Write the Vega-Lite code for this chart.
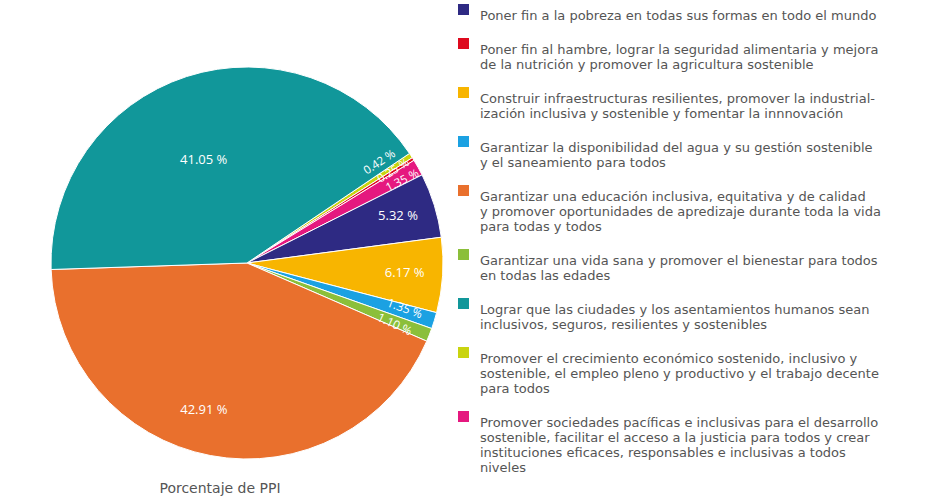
{
  "$schema": "https://vega.github.io/schema/vega-lite/v6.json",
  "width": 494,
  "height": 430,
  "autosize": {"type": "none"},
  "padding": {"left": 0, "top": 48, "right": 451, "bottom": 24},
  "background": "white",
  "config": {"view": {"stroke": null}, "font": "Open Sans"},
  "title": {"text": "Porcentaje de PPI", "orient": "bottom", "fontSize": 14, "fontWeight": "normal", "color": "#555555", "dx": -27, "offset": 4, "font": "DejaVu Sans"},
  "data": {"values": [
    {"cat": "Promover el crecimiento económico sostenido, inclusivo y\nsostenible, el empleo pleno y productivo y el trabajo decente\npara todos", "pct": 0.42},
    {"cat": "Poner fin al hambre, lograr la seguridad alimentaria y mejora\nde la nutrición y promover la agricultura sostenible", "pct": 0.25},
    {"cat": "Promover sociedades pacíficas e inclusivas para el desarrollo\nsostenible, facilitar el acceso a la justicia para todos y crear\ninstituciones eficaces, responsables e inclusivas a todos\nniveles", "pct": 1.35},
    {"cat": "Poner fin a la pobreza en todas sus formas en todo el mundo", "pct": 5.32},
    {"cat": "Construir infraestructuras resilientes, promover la industrial-\nización inclusiva y sostenible y fomentar la innnovación", "pct": 6.17},
    {"cat": "Garantizar la disponibilidad del agua y su gestión sostenible\ny el saneamiento para todos", "pct": 1.35},
    {"cat": "Garantizar una vida sana y promover el bienestar para todos\nen todas las edades", "pct": 1.10},
    {"cat": "Garantizar una educación inclusiva, equitativa y de calidad\ny promover oportunidades de apredizaje durante toda la vida\npara todas y todos", "pct": 42.91},
    {"cat": "Lograr que las ciudades y los asentamientos humanos sean\ninclusivos, seguros, resilientes y sostenibles", "pct": 41.05}
  ]},
  "transform": [
    {"window": [{"op": "row_number", "as": "idx"}]},
    {"calculate": "format(datum.pct, '.2f') + ' %'", "as": "lbl"}
  ],
  "encoding": {
    "theta": {"field": "pct", "type": "quantitative", "stack": true, "scale": {"range": [0.9774, 7.2606], "nice": false, "zero": true}},
    "order": {"field": "idx", "type": "quantitative"}
  },
  "layer": [
    {
      "mark": {"type": "arc", "outerRadius": 196, "stroke": "white", "strokeWidth": 1},
      "encoding": {
        "color": {
          "field": "cat", "type": "nominal",
          "scale": {
            "domain": [
              "Poner fin a la pobreza en todas sus formas en todo el mundo",
              "Poner fin al hambre, lograr la seguridad alimentaria y mejora\nde la nutrición y promover la agricultura sostenible",
              "Construir infraestructuras resilientes, promover la industrial-\nización inclusiva y sostenible y fomentar la innnovación",
              "Garantizar la disponibilidad del agua y su gestión sostenible\ny el saneamiento para todos",
              "Garantizar una educación inclusiva, equitativa y de calidad\ny promover oportunidades de apredizaje durante toda la vida\npara todas y todos",
              "Garantizar una vida sana y promover el bienestar para todos\nen todas las edades",
              "Lograr que las ciudades y los asentamientos humanos sean\ninclusivos, seguros, resilientes y sostenibles",
              "Promover el crecimiento económico sostenido, inclusivo y\nsostenible, el empleo pleno y productivo y el trabajo decente\npara todos",
              "Promover sociedades pacíficas e inclusivas para el desarrollo\nsostenible, facilitar el acceso a la justicia para todos y crear\ninstituciones eficaces, responsables e inclusivas a todos\nniveles"
            ],
            "range": ["#2e2a83", "#de0a1e", "#f8b500", "#1ba1e2", "#e9702d", "#8bbf3a", "#11979a", "#c9d40f", "#e5187f"]
          },
          "legend": {
            "orient": "none", "legendX": 457, "legendY": -45, "title": null, "padding": 0,
            "symbolType": "square", "symbolSize": 121, "symbolStrokeWidth": 0, "symbolOpacity": 1,
            "labelFont": "DejaVu Sans", "labelFontSize": 13, "labelColor": "#555555", "labelLimit": 500,
            "labelOffset": 10, "rowPadding": 14, "labelBaseline": "top",
            "labelExpr": "split(datum.label, '\\n')"
          }
        }
      }
    },
    {"mark": {"type": "text", "radius": 171, "angle": -33, "dx": -5, "dy": -11, "color": "white", "fontSize": 11.5},
     "encoding": {"text": {"condition": {"test": "datum.idx == 1", "field": "lbl"}, "value": ""}}},
    {"mark": {"type": "text", "radius": 173, "angle": -32, "color": "white", "fontSize": 11.5},
     "encoding": {"text": {"condition": {"test": "datum.idx == 2", "field": "lbl"}, "value": ""}}},
    {"mark": {"type": "text", "radius": 168, "angle": -27, "dx": 8, "dy": 4, "color": "white", "fontSize": 11.5},
     "encoding": {"text": {"condition": {"test": "datum.idx == 3", "field": "lbl"}, "value": ""}}},
    {"mark": {"type": "text", "radius": 158, "color": "white", "fontSize": 13},
     "encoding": {"text": {"condition": {"test": "datum.idx == 4 || datum.idx == 5", "field": "lbl"}, "value": ""}}},
    {"mark": {"type": "text", "radius": 162, "angle": 20, "dx": 2, "dy": -3, "color": "white", "fontSize": 12},
     "encoding": {"text": {"condition": {"test": "datum.idx == 6", "field": "lbl"}, "value": ""}}},
    {"mark": {"type": "text", "radius": 162, "angle": 25, "dx": -2, "dy": 3, "color": "white", "fontSize": 12},
     "encoding": {"text": {"condition": {"test": "datum.idx == 7", "field": "lbl"}, "value": ""}}},
    {"mark": {"type": "text", "radius": 150, "dx": -15, "color": "white", "fontSize": 13},
     "encoding": {"text": {"condition": {"test": "datum.idx == 8", "field": "lbl"}, "value": ""}}},
    {"mark": {"type": "text", "radius": 108, "dx": -10, "color": "white", "fontSize": 13},
     "encoding": {"text": {"condition": {"test": "datum.idx == 9", "field": "lbl"}, "value": ""}}}
  ]
}
